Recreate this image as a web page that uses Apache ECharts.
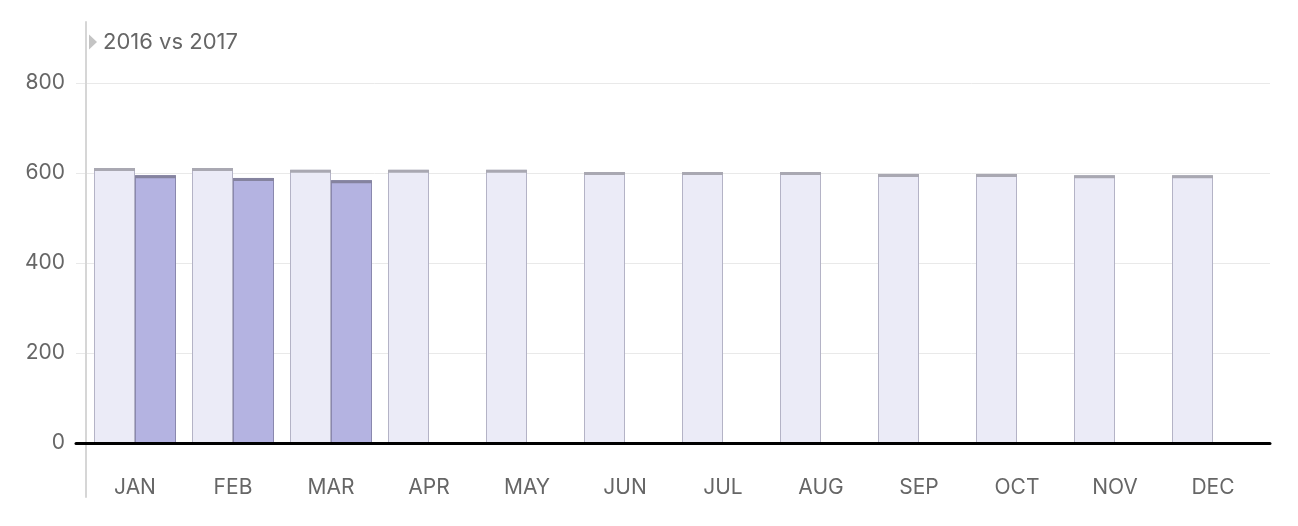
<!DOCTYPE html>
<html>
<head>
<meta charset="utf-8">
<script src="https://cdn.jsdelivr.net/npm/echarts@6/dist/echarts.min.js"></script>
<style>
html,body{margin:0;padding:0;background:#fff;}
#chart{width:1298px;height:526px;}
</style>
</head>
<body>
<div id="chart"></div>
<script>
const categories = ['JAN','FEB','MAR','APR','MAY','JUN','JUL','AUG','SEP','OCT','NOV','DEC'];
const values2016 = [611, 611, 607, 607, 607, 602, 602, 602, 598, 598, 595, 595];
const values2017 = [595, 589, 584, null, null, null, null, null, null, null, null, null];
const legendName = '2016 vs 2017';

const FONT = 'Inter, "Liberation Sans", Arial, sans-serif';
const BAR_W = 41;

function capSeries(name, values, color, side) {
  return {
    type: 'custom',
    name: name + '-cap',
    xAxisIndex: 1,
    yAxisIndex: 1,
    z: 5,
    silent: true,
    data: values.map((v, i) => [i, v]),
    renderItem: function (params, api) {
      const v = api.value(1);
      if (v === null || v === undefined || isNaN(v)) return null;
      const p = api.coord([api.value(0), v]);
      const x0 = side === 'left' ? p[0] - BAR_W : p[0];
      return {
        type: 'rect',
        shape: { x: x0, y: p[1], width: BAR_W, height: 3 },
        style: { fill: color }
      };
    }
  };
}

const chart = echarts.init(document.getElementById('chart'));
chart.setOption({
  animation: false,
  backgroundColor: '#fff',
  textStyle: { fontFamily: FONT },
  legend: {
    left: 84,
    top: 26,
    itemWidth: 8,
    itemHeight: 15,
    itemGap: 0,
    selectedMode: false,
    textStyle: { color: '#666', fontSize: 22, fontFamily: FONT, padding: [0, 0, 0, 1] },
    data: [{ name: legendName, icon: 'path://M0,0 L8,7.5 L0,15 Z', itemStyle: { color: '#c4c4c4' } }]
  },
  grid: [
    { left: 76, right: 28, top: 83, bottom: 83, outerBoundsMode: 'none', containLabel: false },
    { left: 86, right: 36, top: 22, bottom: 29, outerBoundsMode: 'none', containLabel: false }
  ],
  xAxis: [
    {
      gridIndex: 0, type: 'value', min: 0, max: 1, z: 10,
      axisLabel: { show: false }, axisTick: { show: false }, splitLine: { show: false },
      axisLine: { show: true, lineStyle: { color: '#000', width: 3 } }
    },
    {
      gridIndex: 1, type: 'category', data: categories, position: 'bottom',
      axisLine: { show: false, onZero: false },
      axisTick: { show: false },
      axisLabel: { show: true, color: '#666', fontSize: 21, margin: -20, fontFamily: FONT }
    }
  ],
  yAxis: [
    {
      gridIndex: 0, type: 'value', min: 0, max: 800, interval: 200,
      axisLine: { show: false }, axisTick: { show: false },
      axisLabel: { color: '#666', fontSize: 21, margin: 11, fontFamily: FONT },
      splitLine: { show: true, lineStyle: { color: '#e9e9e9', width: 1 } }
    },
    {
      gridIndex: 1, type: 'value', min: -120, max: 935.6,
      axisLine: { show: true, lineStyle: { color: '#d6d6d6', width: 2 } },
      axisTick: { show: false }, axisLabel: { show: false }, splitLine: { show: false }
    }
  ],
  series: [
    {
      type: 'line', name: legendName, xAxisIndex: 1, yAxisIndex: 1, data: [],
      itemStyle: { color: '#c4c4c4' }
    },
    {
      type: 'bar', name: '2016', xAxisIndex: 1, yAxisIndex: 1,
      data: values2016, barWidth: BAR_W, barGap: '0%',
      itemStyle: { color: '#ebebf7', borderColor: '#b4b3c6', borderWidth: 1 }
    },
    {
      type: 'bar', name: '2017', xAxisIndex: 1, yAxisIndex: 1,
      data: values2017, barWidth: BAR_W, barGap: '0%',
      itemStyle: { color: '#b4b3e1', borderColor: '#8a88ae', borderWidth: 1 }
    },
    capSeries('2016', values2016, '#a9a8b2', 'left'),
    capSeries('2017', values2017, '#85839f', 'right')
  ]
});
</script>
</body>
</html>
